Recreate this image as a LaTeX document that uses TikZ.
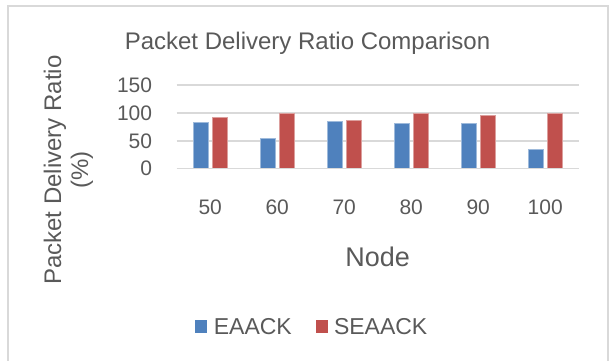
\documentclass[tikz,border=0pt]{standalone}
\usepackage{fontspec}
\setmainfont{Liberation Sans}
\usepackage{tikz}
\usetikzlibrary{positioning}
\definecolor{barblue}{RGB}{79,129,189}
\definecolor{barred}{RGB}{192,80,77}
\definecolor{txtgray}{RGB}{89,89,89}
\definecolor{gridgray}{RGB}{217,217,217}

\begin{document}
\begin{tikzpicture}[x=1pt, y=1pt,
		lbl/.style={text=txtgray, inner sep=0pt},
		gridline/.style={draw=gridgray, line width=1.5pt},
		ebar/.style={fill=barblue, draw=barblue!55!white, line width=0.7pt},
		sbar/.style={fill=barred, draw=barred!55!white, line width=0.7pt},
		key/.style={minimum size=12.5pt, inner sep=0pt}]
				\useasboundingbox (0,0) rectangle (611,360);
				\clip (0,0) rectangle (611,360);
				\draw[gridgray, line width=2pt] (8,-10) rectangle (607.5,354.5);
				% title
				\node[lbl, anchor=base, font=\fontsize{24}{28}\selectfont] (title) at (307.5,310.7) {Packet Delivery Ratio Comparison};
				% grid and value axis
				\draw[gridline] (176.7,275) -- (578.7,275);
				\draw[gridline] (176.7,247.1) -- (578.7,247.1);
				\draw[gridline] (176.7,219.2) -- (578.7,219.2);
				\node[lbl, anchor=east, font=\fontsize{21}{25}\selectfont] (t150) at (152.3,275) {150};
				\node[lbl, anchor=east, font=\fontsize{21}{25}\selectfont] (t100) at (152.3,247.1) {100};
				\node[lbl, anchor=east, font=\fontsize{21}{25}\selectfont] (t50) at (152.3,219.2) {50};
				\node[lbl, anchor=east, font=\fontsize{21}{25}\selectfont] (t0) at (152.3,191.3) {0};
				% bars
				\foreach \i/\n/\e/\s in {1/50/83/92, 2/60/54/100, 3/70/85/87, 4/80/81/99, 5/90/81/96, 6/100/34/99} {
					\draw[ebar] ({176.7+67*(\i-0.5)-17},191.3) rectangle ({176.7+67*(\i-0.5)-2.2},{191.3+0.558*\e});
					\draw[sbar] ({176.7+67*(\i-0.5)+2.2},191.3) rectangle ({176.7+67*(\i-0.5)+17},{191.3+0.558*\s});
					\node[lbl, font=\fontsize{21}{25}\selectfont] (n\n) at ({176.7+67*(\i-0.5)},152.5) {\n};
				}
				\draw[gridline] (176.7,191.3) -- (578.7,191.3);
				% axis titles
				\node[lbl, anchor=base, font=\fontsize{27}{30}\selectfont] (xtitle) at (377.7,93.3) {Node};
				\node[lbl, rotate=90, align=center, font=\fontsize{24}{27}\selectfont] (ytitle) at (68.5,190) {Packet Delivery Ratio\\(\%)};
				% legend
				\node[key, fill=barblue] (keyE) at (201.2,33.7) {};
				\node[lbl, right=6pt of keyE, font=\fontsize{23}{27}\selectfont] (labE) {EAACK};
				\node[key, fill=barred, right=23.3pt of labE] (keyS) {};
				\node[lbl, right=5.6pt of keyS, font=\fontsize{23}{27}\selectfont] (labS) {SEAACK};
			\end{tikzpicture}
\end{document}
